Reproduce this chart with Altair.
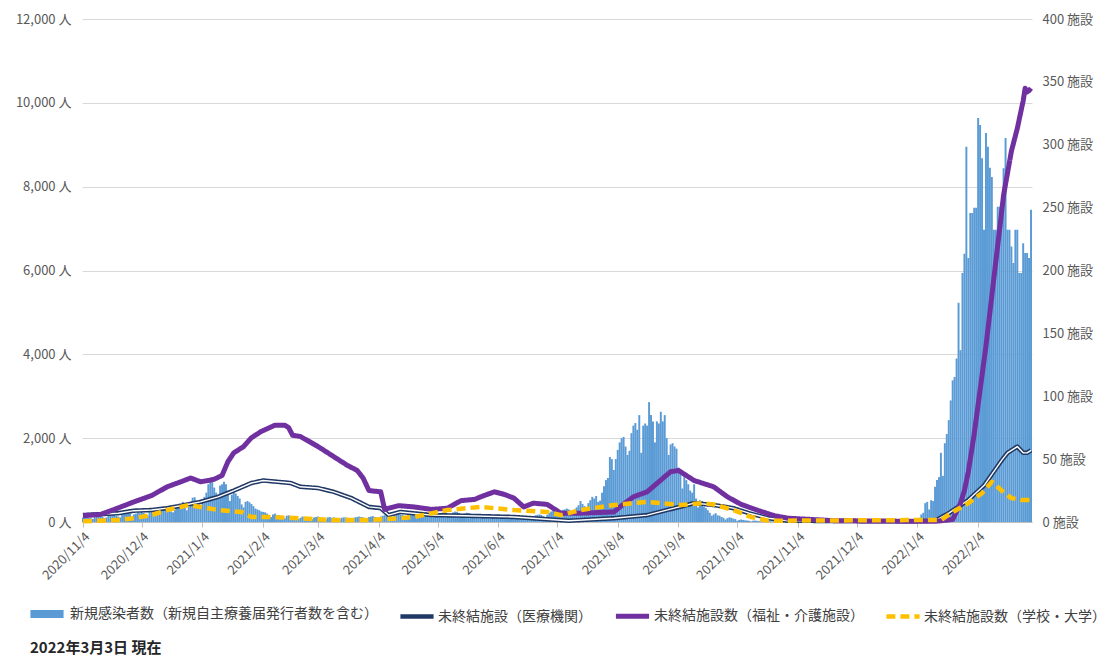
import altair as alt
import pandas as pd

# ---------------- data ----------------
# daily new cases, 2020/11/4 .. 2022/3/3 (day index 0 = 2020/11/4)
cases_2020_11 = [110, 120, 130, 105, 90, 70, 115, 140, 150, 160, 120, 95, 110, 170, 200,
                 190, 180, 150, 130, 110, 190, 200, 220, 210, 200, 130, 180]
cases_2020_12 = [200, 230, 210, 240, 220, 180, 160, 250, 270, 260, 280, 230, 190, 260,
                 300, 330, 320, 300, 250, 230, 300, 370, 390, 410, 480, 350, 280, 360,
                 440, 580, 590]
cases_2021_01 = [500, 450, 400, 480, 600, 700, 900, 1000, 950, 820, 700, 650, 870, 900,
                 960, 900, 750, 500, 650, 700, 680, 620, 560, 420, 350, 480, 500, 470,
                 430, 380, 320]
cases_2021_02 = [300, 280, 250, 240, 230, 200, 150, 120, 180, 200, 170, 160, 140, 100,
                 90, 150, 160, 140, 130, 110, 90, 70, 100, 130, 120, 110, 100, 80]
cases_2021_03 = [70, 110, 120, 130, 110, 100, 80, 60, 110, 120, 100, 110, 100, 70,
                 60, 100, 110, 110, 100, 90, 70, 60, 110, 120, 130, 120, 110, 90,
                 70, 120, 130]
cases_2021_04 = [140, 120, 110, 80, 130, 150, 160, 140, 150, 130, 100, 150, 170, 190,
                 180, 170, 150, 110, 160, 190, 200, 220, 200, 180, 130, 170, 220, 230,
                 200, 180]
cases_2021_05 = [170, 160, 140, 120, 130, 200, 240, 230, 190, 140, 190, 230, 250, 240,
                 210, 160, 150, 200, 220, 210, 190, 180, 140, 120, 170, 190, 180, 160,
                 150, 110, 100]
cases_2021_06 = [150, 160, 150, 140, 130, 100, 80, 120, 140, 130, 120, 110, 90, 70,
                 110, 130, 140, 120, 110, 100, 80, 140, 160, 170, 180, 170, 140, 110,
                 170, 220]
cases_2021_07 = [250, 260, 230, 180, 170, 260, 290, 300, 320, 300, 240, 200, 300, 350,
                 400, 500, 430, 380, 300, 450, 520, 600, 560, 620, 480, 510, 700, 850,
                 1000, 1050, 1550]
cases_2021_08 = [1500, 1240, 1500, 1720, 1900, 2000, 2030, 1800, 1600, 1700, 2120, 2300,
                 2360, 2200, 2550, 1650, 2300, 2350, 2300, 2860, 2550, 2400, 1900, 2400,
                 2350, 2630, 2400, 2550, 2000, 1600, 1850]
cases_2021_09 = [1880, 1800, 1750, 1300, 1170, 800, 1100, 1000, 900, 750, 700, 900, 560,
                 350, 520, 500, 360, 330, 280, 220, 150, 180, 210, 160, 150, 120, 100,
                 60, 90, 110]
cases_2021_10 = [100, 80, 70, 30, 50, 60, 50, 40, 35, 30, 15, 30, 35, 30, 25, 20, 15, 10,
                 20, 25, 20, 15, 15, 10, 8, 15, 20, 15, 12, 10, 8]
cases_2021_11 = [5, 10, 12, 10, 8, 7, 5, 4, 10, 12, 10, 9, 8, 6, 3, 8, 10, 9, 8, 6, 5,
                 3, 4, 9, 10, 8, 7, 5, 3, 8]
cases_2021_12 = [10, 9, 8, 6, 5, 3, 10, 12, 11, 9, 8, 6, 4, 12, 14, 13, 11, 9, 7, 6, 15,
                 18, 20, 25, 22, 18, 12, 30, 40, 45, 40]
cases_2022_01 = [40, 30, 35, 60, 100, 180, 220, 450, 480, 300, 520, 500, 840, 1000,
                 1070, 1650, 1100, 1880, 2100, 2430, 2900, 3380, 3460, 3900, 5230, 4100,
                 5940, 6400, 8950, 6300, 7370]
cases_2022_02 = [7370, 7500, 7500, 9640, 9470, 8680, 6970, 9280, 8950, 8450, 8230, 6970,
                 6970, 7520, 7520, 7520, 8440, 9160, 6970, 6970, 6570, 6180, 6970, 6970,
                 5940, 5940, 6650, 6420]
cases_2022_03 = [6420, 6300, 7450]

# unfinished facilities (right axis), read at key days (day index from 2020/11/4)
medical_day = [0, 18, 26, 35, 43, 52, 60, 69, 77, 86, 92, 99, 106, 111, 120, 128, 137,
               146, 152, 156, 162, 178, 195, 220, 248, 271, 288, 302, 312, 322, 332,
               340, 350, 360, 420, 435, 442, 452, 460, 469, 472, 477, 480, 482, 484]
medical_val = [5.5, 7, 9, 9.5, 11, 13.5, 16, 20, 25, 31, 33, 32, 31, 28, 27, 24, 19,
               12, 11, 5.5, 8, 5.5, 5, 4, 1, 3, 5.5, 11, 15, 13.5, 11,
               7, 3, 1, 0.5, 1, 7, 17.5, 29, 49, 55, 60, 55, 55, 57]

welfare_day = [0, 9, 16, 26, 35, 43, 50, 55, 60, 64, 67, 71, 74, 77, 82, 86, 91, 98,
               103, 105, 107, 111, 120, 128, 135, 140, 143, 146, 152, 154, 161, 169,
               178, 186, 193, 200, 203, 210, 215, 220, 225, 230, 237, 241, 244, 254,
               271, 275, 281, 288, 294, 300, 304, 309, 312, 316, 322, 329, 336, 345,
               353, 360, 384, 435, 444, 448, 450, 452, 455, 458, 461, 464, 467, 470,
               474, 477, 480, 481, 482, 483, 484]
welfare_val = [5, 6, 10, 16, 21, 28, 32, 35, 32, 33, 34, 37, 48, 55, 60, 67, 72, 77,
               77, 75, 69, 68, 60, 52, 45, 41, 35, 25, 24, 10, 13, 12,
               10, 11, 17, 18, 20, 24, 22, 19, 12, 15, 14, 10, 7, 7,
               8, 13, 20, 24, 32, 40, 41, 36, 33, 31, 28, 20, 14, 9,
               5, 3, 1, 0.5, 2, 15, 25, 40, 70, 105, 140, 180, 220, 260,
               295, 313, 335, 345, 342, 343, 345]

school_day = [0, 17, 26, 35, 43, 54, 60, 69, 81, 86, 94, 111, 128, 146, 162, 169, 186,
              203, 220, 237, 244, 254, 271, 288, 305, 316, 322, 332, 341, 350, 420,
              438, 443, 452, 459, 464, 469, 474, 479, 484]
school_val = [0.5, 1.5, 3, 5.5, 9.5, 13.5, 12, 9.5, 8, 4, 4, 3, 1.5, 1.5, 3, 4, 9.5,
              12, 9.5, 8, 5.5, 9.5, 13.5, 16, 13.5, 15, 14, 9.5, 4, 1, 1.5,
              1.5, 7, 15, 23, 32, 25, 19, 17.5, 17.5]

tick_days = [0, 30, 61, 92, 120, 151, 181, 212, 242, 273, 304, 334, 365, 395, 426, 457]

series_names = ["新規感染者数（新規自主療養届発行者数を含む）", "未終結施設（医療機関）",
                "未終結施設数（福祉・介護施設）", "未終結施設数（学校・大学）"]
series_colors = ["#5b9bd5", "#203864", "#7030a0", "#ffc000"]
caption = "2022年3月3日  現在"

# ---------------- tables ----------------
cases = (cases_2020_11 + cases_2020_12 + cases_2021_01 + cases_2021_02 + cases_2021_03 +
         cases_2021_04 + cases_2021_05 + cases_2021_06 + cases_2021_07 + cases_2021_08 +
         cases_2021_09 + cases_2021_10 + cases_2021_11 + cases_2021_12 + cases_2022_01 +
         cases_2022_02 + cases_2022_03)
bars_df = pd.DataFrame({"day": range(len(cases)), "cases": cases})
bars_df["x0"] = bars_df["day"] - 0.5
bars_df["x1"] = bars_df["day"] + 0.5

lines_df = pd.concat([
    pd.DataFrame({"day": medical_day, "val": medical_val, "series": series_names[1]}),
    pd.DataFrame({"day": welfare_day, "val": welfare_val, "series": series_names[2]}),
    pd.DataFrame({"day": school_day, "val": school_val, "series": series_names[3]}),
])

FONT = "Noto Sans CJK JP"
LABEL_COLOR = "#595959"

x_scale = alt.Scale(domain=[-0.5, len(cases) - 0.5], nice=False, zero=False)
x_axis = alt.Axis(values=tick_days,
                  labelExpr="timeFormat(datetime(2020, 10, 4 + datum.value), '%Y/%-m/%-d')",
                  labelAngle=-45, title=None, grid=False, domainColor="#bfbfbf",
                  tickColor="#bfbfbf", tickSize=5, labelFontSize=13, labelColor=LABEL_COLOR,
                  labelFont=FONT, labelPadding=3)

y_left_axis = alt.Axis(values=list(range(0, 12001, 2000)),
                       labelExpr="format(datum.value, ',') + ' 人'", grid=True,
                       gridColor="#d9d9d9", domain=False, ticks=False, labelPadding=11,
                       title=None, labelFontSize=13, labelColor=LABEL_COLOR, labelFont=FONT)
y_right_scale = alt.Scale(domain=[0, 400], nice=False)
y_right_axis = alt.Axis(orient="right", values=list(range(0, 401, 50)),
                        labelExpr="datum.value + ' 施設'", grid=False, domain=False,
                        ticks=False, labelPadding=10, title=None, labelFontSize=13,
                        labelColor=LABEL_COLOR, labelFont=FONT)

legend = alt.Legend(orient="none", legendX=-56, legendY=574, direction="horizontal",
                    title=None, symbolType="stroke", symbolSize=1100, labelFontSize=14,
                    labelFont=FONT, labelColor="#404040", columnPadding=13, labelOffset=2,
                    labelLimit=400)

color_enc = alt.Color("series:N", scale=alt.Scale(domain=series_names, range=series_colors),
                      legend=legend)
dash_enc = alt.StrokeDash("series:N",
                          scale=alt.Scale(domain=series_names,
                                          range=[[1, 0], [1, 0], [1, 0], [9, 5]]),
                          legend=legend)
width_enc = alt.StrokeWidth("series:N",
                            scale=alt.Scale(type="ordinal", domain=series_names,
                                            range=[8, 4.5, 5, 4.5]),
                            legend=legend)

bars = alt.Chart(bars_df).mark_bar(color=series_colors[0], strokeWidth=0).encode(
    x=alt.X("x0:Q", scale=x_scale, axis=x_axis),
    x2="x1:Q",
    y=alt.Y("cases:Q", scale=alt.Scale(domain=[0, 12000], nice=False), axis=y_left_axis),
    y2=alt.datum(0),
)

base = alt.Chart(lines_df).encode(
    x=alt.X("day:Q", scale=x_scale, axis=x_axis),
    y=alt.Y("val:Q", scale=y_right_scale, axis=y_right_axis),
)

medical = base.transform_filter(alt.datum.series == series_names[1]).mark_line(
    strokeJoin="round").encode(color=color_enc, strokeDash=dash_enc, strokeWidth=width_enc)
medical_inner = base.transform_filter(alt.datum.series == series_names[1]).mark_line(
    color="white", strokeWidth=1.4, strokeJoin="round")
welfare = base.transform_filter(alt.datum.series == series_names[2]).mark_line(
    strokeJoin="round").encode(color=color_enc, strokeDash=dash_enc, strokeWidth=width_enc)
school = base.transform_filter(alt.datum.series == series_names[3]).mark_line(
    strokeJoin="round").encode(color=color_enc, strokeDash=dash_enc, strokeWidth=width_enc)

lines = alt.layer(medical, medical_inner, welfare, school)

note = alt.Chart(pd.DataFrame({"t": [caption]})).mark_text(
    align="left", baseline="middle", font=FONT, fontSize=15, fontWeight="bold",
    color="#262626").encode(x=alt.value(-52), y=alt.value(629), text="t:N")

chart = alt.layer(bars, lines, note).resolve_scale(y="independent").properties(
    width=950, height=503,
    padding={"left": 82, "top": 19, "right": 77, "bottom": 135},
    autosize=alt.AutoSizeParams(type="none"),
    background="white",
).configure_view(stroke=None)

chart.save("out.html", embed_options={"renderer": "svg", "actions": False})
